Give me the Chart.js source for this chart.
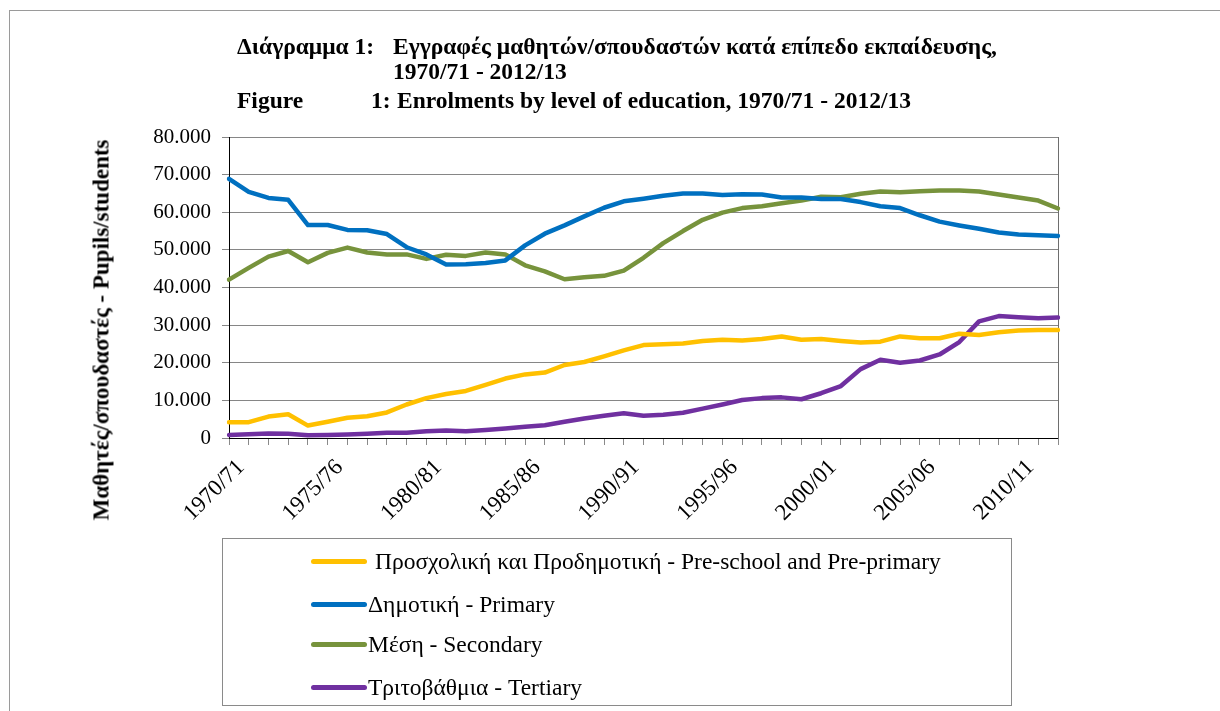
<!DOCTYPE html>
<html>
<head>
<meta charset="utf-8">
<script src="https://cdn.jsdelivr.net/npm/chart.js@4.4.1/dist/chart.umd.min.js"></script>
<style>
  html, body { margin: 0; padding: 0; background: #fff; }
  body { width: 1220px; height: 711px; position: relative; overflow: hidden; font-family: "Liberation Serif", "Times New Roman", serif; color: #000; }
  #frame { position: absolute; left: 9px; top: 10px; width: 1300px; height: 800px; border-left: 1px solid #9a9a9a; border-top: 1px solid #9a9a9a; }
  #chart { position: absolute; left: 0; top: 0; }
  .t { position: absolute; font-weight: bold; font-size: 23.5px; white-space: nowrap; line-height: 1; }
  #ytitle { position: absolute; left: 101px; top: 330px; font-weight: bold; font-size: 23px; white-space: nowrap; line-height: 1; transform: translate(-50%, -50%) rotate(-90deg); }
  #legend { position: absolute; left: 222px; top: 538px; width: 790px; height: 168px; border: 1px solid #8a8a8a; box-sizing: border-box; }
  .li { position: absolute; font-size: 23.5px; white-space: nowrap; line-height: 1; }
  .sw { position: absolute; height: 5px; border-radius: 3px; }
</style>
</head>
<body>
<div id="frame"></div>
<canvas id="chart" width="1220" height="711"></canvas>

<div class="t" style="left:237px; top:35px;">Διάγραμμα 1:</div>
<div class="t" style="left:393px; top:35px;">Εγγραφές μαθητών/σπουδαστών κατά επίπεδο εκπαίδευσης,</div>
<div class="t" style="left:393px; top:60px;">1970/71 - 2012/13</div>
<div class="t" style="left:237px; top:89px;">Figure</div>
<div class="t" style="left:371px; top:89px;">1:</div>
<div class="t" style="left:397px; top:89px;">Enrolments by level of education, 1970/71 - 2012/13</div>

<div id="ytitle">Μαθητές/σπουδαστές - Pupils/students</div>

<div id="legend"></div>

<script>
const categories = ["1970/71","1971/72","1972/73","1973/74","1974/75","1975/76","1976/77","1977/78","1978/79","1979/80",
  "1980/81","1981/82","1982/83","1983/84","1984/85","1985/86","1986/87","1987/88","1988/89","1989/90",
  "1990/91","1991/92","1992/93","1993/94","1994/95","1995/96","1996/97","1997/98","1998/99","1999/00",
  "2000/01","2001/02","2002/03","2003/04","2004/05","2005/06","2006/07","2007/08","2008/09","2009/10",
  "2010/11","2011/12","2012/13"];

const preschool = [4200,4200,5700,6300,3300,4300,5400,5800,6800,8900,
  10600,11700,12500,14100,15800,16900,17400,19400,20200,21700,
  23300,24700,24900,25100,25800,26100,25900,26300,27000,26100,
  26300,25800,25400,25600,27000,26500,26500,27700,27400,28100,
  28600,28700,28700];

const primary = [68900,65400,63800,63300,56600,56600,55300,55200,54200,50700,
  48800,46100,46200,46500,47200,51200,54300,56500,58900,61200,
  62900,63600,64400,65000,65000,64600,64800,64700,63900,63900,
  63500,63500,62700,61600,61100,59200,57500,56500,55600,54600,
  54100,53900,53700];

const secondary = [42100,45200,48200,49700,46700,49200,50600,49300,48800,48800,
  47600,48700,48400,49300,48800,45900,44300,42200,42700,43100,
  44500,47900,51800,55000,58000,59900,61100,61600,62400,63100,
  64100,64000,64900,65500,65300,65600,65800,65800,65500,64700,
  63900,63100,61000];

const tertiary = [800,1000,1200,1100,700,800,900,1100,1400,1400,
  1800,2000,1800,2100,2500,3000,3400,4300,5200,5900,
  6600,5900,6200,6700,7800,8900,10100,10600,10800,10300,
  11900,13800,18300,20800,20000,20600,22200,25500,31000,32400,
  32100,31800,32000];

const seriesNames = [
  "Προσχολική και Προδημοτική - Pre-school and Pre-primary",
  "Δημοτική - Primary",
  "Μέση - Secondary",
  "Τριτοβάθμια - Tertiary"
];
const seriesColors = ["#FFC000", "#0070C0", "#77933C", "#7030A0"];

const yTickValues = [0,10000,20000,30000,40000,50000,60000,70000,80000];

function fmtThousands(v) {
  if (v === 0) return "0";
  const s = String(Math.round(v));
  return s.replace(/\B(?=(\d{3})+(?!\d))/g, ".");
}

// legend (HTML)
const legendEl = document.getElementById('legend');
const legendRows = [23, 66, 106, 149];
const legendTextX = [152, 145, 145, 145];
seriesNames.forEach((name, i) => {
  const sw = document.createElement('div');
  sw.className = 'sw';
  sw.style.left = '88px';
  sw.style.width = '56px';
  sw.style.top = (legendRows[i] - 3) + 'px';
  sw.style.background = seriesColors[i];
  legendEl.appendChild(sw);
  const tx = document.createElement('div');
  tx.className = 'li';
  tx.style.left = legendTextX[i] + 'px';
  tx.style.top = (legendRows[i] - 12) + 'px';
  tx.textContent = name;
  legendEl.appendChild(tx);
});

const allSeries = [preschool, primary, secondary, tertiary];
const datasets = allSeries.map((d, i) => ({
  label: seriesNames[i],
  data: d,
  borderColor: seriesColors[i],
  backgroundColor: seriesColors[i],
  borderWidth: 4.5,
  pointRadius: 0,
  tension: 0,
  fill: false,
  borderJoinStyle: 'round',
  borderCapStyle: 'round',
  yAxisID: 'y'
}));

const serif = "'Liberation Serif', 'Times New Roman', serif";

new Chart(document.getElementById('chart'), {
  type: 'line',
  data: { labels: categories, datasets },
  options: {
    responsive: false,
    animation: false,
    devicePixelRatio: 1,
    layout: { padding: { left: 0, top: 137, right: 162, bottom: 183 } },
    plugins: { legend: { display: false }, title: { display: false }, tooltip: { enabled: false } },
    scales: {
      x: {
        offset: false,
        grid: { display: true, drawOnChartArea: false, drawTicks: true, tickLength: 7, color: '#8a8a8a', lineWidth: 1 },
        border: { display: true, color: '#000', width: 1 },
        ticks: {
          autoSkip: false, maxRotation: 45, minRotation: 45, padding: 9, labelOffset: 12,
          color: '#000', font: { family: serif, size: 23 },
          callback: function (v, i) { return i % 5 === 0 ? this.getLabelForValue(v) : ''; }
        },
        afterFit(s) { s.height = 90; }
      },
      y: {
        min: 0, max: 80000,
        afterBuildTicks(s) { s.ticks = yTickValues.map(v => ({ value: v })); },
        grid: { color: '#868686', lineWidth: 1, tickLength: 7, drawTicks: true },
        border: { display: true, color: '#000', width: 1 },
        ticks: { color: '#000', font: { family: serif, size: 21 }, padding: 11, callback: v => fmtThousands(v) },
        afterFit(s) { s.width = 229; }
      },
      y2: {
        position: 'right', min: 0, max: 80000,
        grid: { display: false },
        border: { display: true, color: '#6e6e6e', width: 1 },
        ticks: { display: false },
        afterFit(s) { s.width = 0; }
      }
    }
  }
});
</script>
</body>
</html>
